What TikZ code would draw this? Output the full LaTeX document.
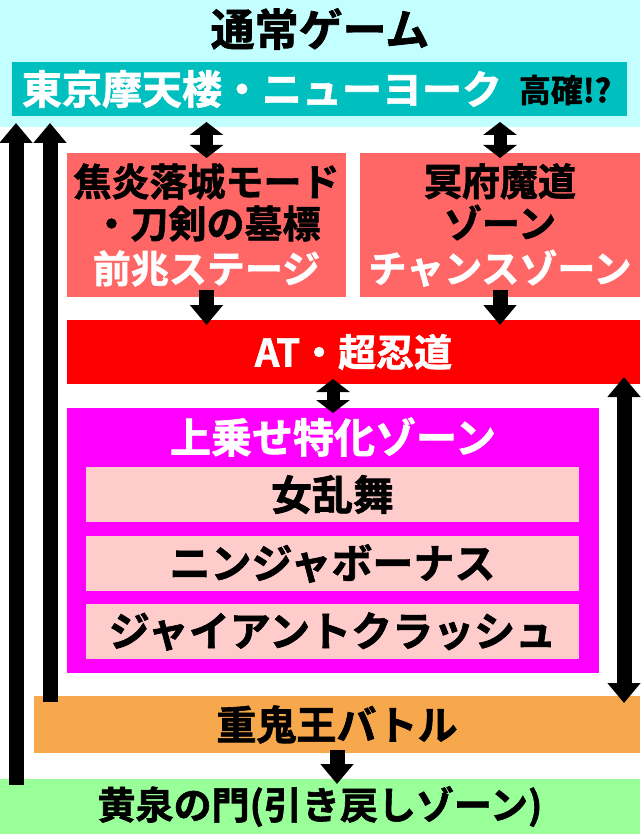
\documentclass[tikz,border=0pt]{standalone}
\usepackage{fontspec}
\newfontfamily\cjk{Noto Sans CJK JP Bold}[FakeBold=1.6]
\usetikzlibrary{positioning,arrows.meta}
\newcommand{\jfont}[1]{\cjk\fontsize{#1}{42}\selectfont}
\definecolor{lightcyan}{HTML}{C4FFFF}
\definecolor{teal2}{HTML}{00BFBF}
\definecolor{salmon}{HTML}{FF6666}
\definecolor{magenta2}{HTML}{FF00FF}
\definecolor{palepink}{HTML}{FFCCCC}
\definecolor{orange2}{HTML}{F7A84C}
\definecolor{lightgreen}{HTML}{99FF99}

\begin{document}
\begin{tikzpicture}[x=1pt, y=-1pt,
zone/.style={rectangle, inner sep=0pt, outer sep=0pt, align=center},
txt/.style={inner sep=0pt, align=center},
sub/.style={zone, fill=palepink, minimum width=493pt, minimum height=55pt, font=\jfont{41}},
bigarrow/.style={line width=15pt, -{Triangle[width=32pt,length=20pt]}},
bigtwoway/.style={line width=15pt, {Triangle[width=32pt,length=20pt]}-{Triangle[width=32pt,length=20pt]}},
twoway/.style={line width=13pt, {Triangle[width=33pt,length=13pt]}-{Triangle[width=33pt,length=13pt]}, shorten <=-5pt, shorten >=-5pt}]

\useasboundingbox (0,0) rectangle (640,834);

\node (normal) [zone, fill=lightcyan, minimum width=640pt, minimum height=127pt] at (320,63.5) {};
\node (title) [txt, font=\jfont{44}] at (320,29) {通常ゲーム};
\node (tokyo) [zone, fill=teal2, minimum width=615pt, minimum height=54pt] at (319.5,89) {};
\node (tokyotxt) [txt, white, font=\jfont{40}] at (262,89) {東京摩天楼・ニューヨーク};
\node (koukaku) [txt, font=\jfont{32}] at (565,90) {高確!?};

%front stages
\node (zenchou) [zone, fill=salmon, minimum width=279pt, minimum height=144pt, font=\jfont{38}] at (206.5,225)
	{焦炎落城モード\\・刀剣の墓標\\[3pt]\textcolor{white}{前兆ステージ}};
\node (meifu) [zone, fill=salmon, minimum width=280pt, minimum height=144pt, font=\jfont{38}] at (500,225)
	{冥府魔道\\ゾーン\\[3pt]\textcolor{white}{チャンスゾーン}};

\node (at) [zone, fill=red, text=white, minimum width=573pt, minimum height=64pt, font=\jfont{38}] at (353.5,352) {AT・超忍道};

%special zones
\node (tokka) [zone, fill=magenta2, minimum width=532pt, minimum height=265pt] at (333,540.5) {};
\node (tokkatitle) [txt, white, font=\jfont{41}] at (333,437) {上乗せ特化ゾーン};
\node (meranbu) [sub] at (332.5,494.5) {女乱舞};
\node (ninja) [sub, below=14pt of meranbu] {ニンジャボーナス};
\node (giant) [sub, below=13pt of ninja] {ジャイアントクラッシュ};

\node (battle) [zone, fill=orange2, minimum width=606pt, minimum height=57pt, font=\jfont{40}] at (337,724.5) {重鬼王バトル};
\node (yomi) [zone, fill=lightgreen, minimum width=640pt, minimum height=55pt, font=\jfont{38}] at (320,806.5) {黄泉の門(引き戻しゾーン)};

%return arrows
\coordinate (ret1) at (16,785);
\coordinate (ret2) at (50,702);
\coordinate (side) at (624,540);
\draw[bigarrow, shorten >=-4pt] (ret1) -- (normal.south -| ret1);
\draw[bigarrow, shorten >=-4pt] (ret2) -- (normal.south -| ret2);

\draw[twoway] (normal.south -| zenchou) -- (zenchou.north);
\draw[twoway] (normal.south -| meifu) -- (meifu.north);
\draw[bigarrow, shorten <=-7pt, shorten >=-5pt] (zenchou.south) -- (at.north -| zenchou);
\draw[bigarrow, shorten <=-7pt, shorten >=-5pt] (meifu.south) -- (at.north -| meifu);
\draw[twoway] (at.south -| tokka) -- (tokka.north);
\draw[bigtwoway, shorten <=-7pt, shorten >=-7pt] (at.south -| side) -- (battle.north -| side);
\draw[bigarrow, shorten <=-3pt, shorten >=-5pt] (battle.south) -- (yomi.north -| battle);

\end{tikzpicture}
\end{document}
